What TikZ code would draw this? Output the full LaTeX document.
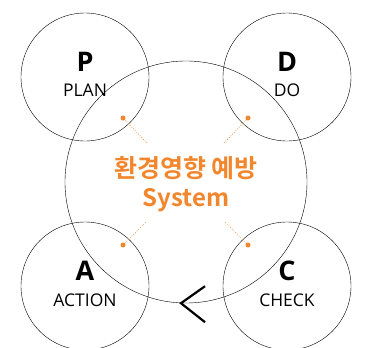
\documentclass[tikz,border=0pt]{standalone}
\usepackage{fontspec}
\setmainfont{Open Sans}
\newfontfamily\krfont{Noto Sans CJK KR}[BoldFont={Noto Sans CJK KR Bold}]
\usetikzlibrary{positioning}
\definecolor{pdcaorange}{RGB}{242,134,44}
\tikzset{
    pdcacircle/.style={draw, circle, minimum size=128pt, inner sep=0pt, thin},
    pdcabig/.style={draw, circle, minimum size=242pt, inner sep=0pt, thin},
    pdcaletter/.style={font=\fontsize{27}{29}\selectfont\bfseries, inner sep=0pt},
    pdcaword/.style={font=\fontsize{17.5}{20}\selectfont, inner sep=0pt},
    pdcadot/.style={circle, fill=pdcaorange, minimum size=5pt, inner sep=0pt},
    pdcadotted/.style={pdcaorange, dash pattern=on 0.8pt off 1.6pt, line width=0.7pt},
    pdcachevron/.style={line width=2.2pt, line cap=butt, line join=miter}
}

\begin{document}
\begin{tikzpicture}[x=1pt, y=-1pt]
    \useasboundingbox (0,0) rectangle (367,348);

    \node[pdcabig] (sys) at (186,182) {};
    \node[pdcacircle] (plan) at (85,77) {};
    \node[pdcacircle] (do) at (287,77) {};
    \node[pdcacircle] (action) at (85,286) {};
    \node[pdcacircle] (check) at (287,286) {};

    \node[pdcaletter] (pL) at ([yshift=15pt]plan) {P};
    \node[pdcaword] (pW) at ([yshift=-13pt]plan) {PLAN};
    \node[pdcaletter] (dL) at ([yshift=15pt]do) {D};
    \node[pdcaword] (dW) at ([yshift=-13pt]do) {DO};
    \node[pdcaletter] (aL) at ([yshift=15pt]action) {A};
    \node[pdcaword] (aW) at ([yshift=-14pt]action) {ACTION};
    \node[pdcaletter] (cL) at ([yshift=15pt]check) {C};
    \node[pdcaword] (cW) at ([yshift=-14pt]check) {CHECK};

    \node[text=pdcaorange, font=\krfont\fontsize{25}{30}\selectfont\bfseries]
        (systext) at (186,168) {환경영향 예방};
    \node[text=pdcaorange, font=\krfont\fontsize{24}{30}\selectfont\bfseries]
        (sysname) at (186,200) {System};

    % orange markers toward the centre
    \node[pdcadot] (dotp) at (123,118) {};
    \node[pdcadot] (dotd) at (248,118) {};
    \node[pdcadot] (dota) at (123,245) {};
    \node[pdcadot] (dotc) at (248,245) {};
    \coordinate (endp) at (147,143);
    \coordinate (endd) at (224,143);
    \coordinate (enda) at (147,221);
    \coordinate (endc) at (224,221);
    \draw[pdcadotted] (dotp) -- (endp);
    \draw[pdcadotted] (dotd) -- (endd);
    \draw[pdcadotted] (dota) -- (enda);
    \draw[pdcadotted] (dotc) -- (endc);

    \coordinate (turn) at (sys.south);
    \draw[pdcachevron] ([xshift=19pt,yshift=17pt]turn) -- ([xshift=-5pt]turn)
        -- ([xshift=19pt,yshift=-19pt]turn);
\end{tikzpicture}
\end{document}
